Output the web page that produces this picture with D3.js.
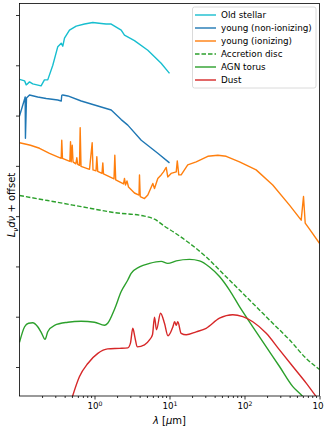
<!DOCTYPE html>
<meta charset="utf-8">
<script src="https://d3js.org/d3.v7.min.js"></script>
<style>
  * {margin: 0; padding: 0;}
  body {background: #fff;}
  text {font-family: "DejaVu Sans", sans-serif; fill: #000;}
  .tick line {stroke: #000; stroke-width: 0.8;}
  .domain {display: none;}
</style>
<body>
<div id="chart"></div>
<script>

// wavelengths in micron, values are log L + offset
var oldLam = [0.100,0.117,0.123,0.136,0.150,0.194,0.215,0.238,0.278,0.324,0.360,0.378,0.398,0.464,0.570,0.736,0.949,1.23,1.43,1.67,2.27,2.51,3.41,5.14,7.74,10.0];
var oldVal = [5.72,5.69,5.61,5.67,5.63,5.59,5.71,5.71,6.00,6.37,6.44,6.38,6.54,6.70,6.78,6.82,6.85,6.83,6.82,6.82,6.70,6.60,6.49,6.30,6.04,5.84];

var yngLam = [0.100,0.117,0.119,0.120,0.124,0.136,0.175,0.227,0.324,0.360,0.366,0.378,0.441,0.665,1.00,1.67,2.27,2.78,4.20,6.98,10.0];
var yngVal = [4.99,5.33,5.37,4.55,5.35,5.41,5.37,5.34,5.31,5.29,5.40,5.41,5.39,5.29,5.21,5.11,4.92,4.81,4.51,4.25,4.06];

var ionLam = [0.100,0.123,0.140,0.185,0.251,0.360,0.366,0.374,0.469,0.479,0.489,0.505,0.517,0.564,0.581,0.598,0.631,0.644,0.661,0.858,0.931,0.955,1.047,1.074,1.104,1.259,1.291,1.318,1.820,1.866,1.919,2.44,2.51,2.59,2.71,2.84,3.41,3.92,3.98,4.07,4.64,5.14,5.99,6.31,6.98,7.74,8.32,9.04,9.48,10.5,12.3,12.7,13.3,14.3,17.5,22.7,32.4,44.1,57.0,85.8,143,238,398,570,612,645,736,1000];
var ionVal = [4.46,4.43,4.41,4.35,4.25,4.15,4.51,4.15,4.09,4.48,4.08,4.41,4.08,4.04,4.16,4.03,4.01,4.76,3.99,3.93,4.46,3.92,3.90,4.18,3.89,3.85,4.06,3.84,3.74,4.21,3.72,3.64,3.75,3.62,3.70,3.58,3.46,3.42,3.82,3.39,3.35,3.42,3.65,3.55,3.75,3.82,3.88,3.97,3.78,3.85,3.88,4.10,3.82,3.82,4.02,4.08,4.19,4.21,4.19,4.08,3.92,3.62,3.22,2.92,3.39,2.86,2.74,2.46];

var accLam = [0.100,0.238,0.665,1.85,4.64,6.31,8.57,11.7,18.5,30.8,51.4,85.8,143,238,398,665,1000];
var accVal = [3.41,3.31,3.19,3.07,3.00,2.94,2.80,2.67,2.46,2.19,1.86,1.53,1.20,0.87,0.54,0.17,-0.05];

var torLam = [0.100,0.117,0.132,0.150,0.175,0.196,0.219,0.238,0.293,0.441,0.665,1.00,1.36,1.50,1.85,2.27,2.78,3.08,3.98,5.41,7.74,9.48,12.3,18.5,25.1,34.1,46.4,63.1,85.8,129,195,293,441,599,736];
var torVal = [0.49,0.80,0.87,0.88,0.80,0.68,0.55,0.70,0.83,0.89,0.91,0.89,0.83,0.87,1.15,1.50,1.73,1.86,1.99,2.06,2.10,2.06,2.11,2.14,2.11,1.99,1.80,1.53,1.20,0.80,0.40,0.01,-0.39,-0.59,-0.78];

var dustLam = [0.505,0.631,0.815,1.107,1.50,2.15,2.78,3.02,3.24,3.47,3.71,4.64,5.41,5.93,6.31,6.71,7.59,8.57,9.55,11.1,11.7,12.3,12.9,14.3,16.7,22.7,30.8,46.4,69.8,94.9,129,195,293,441,665,904];
var dustVal = [-0.60,-0.19,0.07,0.27,0.36,0.37,0.38,0.48,0.77,0.58,0.40,0.44,0.54,0.64,0.99,0.74,1.07,0.87,0.62,0.80,0.90,0.83,0.90,0.67,0.64,0.70,0.77,0.97,1.04,1.00,0.90,0.67,0.34,0.01,-0.32,-0.59];

var xMajor = [1, 10, 100, 1000];
var yTicks = [0, 1, 2, 3, 4, 5, 6, 7];

var series = [
  {name: "Old stellar",          lam: oldLam,  val: oldVal,  color: "#17becf", dash: null,  smooth: false},
  {name: "young (non-ionizing)", lam: yngLam,  val: yngVal,  color: "#1f77b4", dash: null,  smooth: false},
  {name: "young (ionizing)",     lam: ionLam,  val: ionVal,  color: "#ff7f0e", dash: null,  smooth: false},
  {name: "Accretion disc",       lam: accLam,  val: accVal,  color: "#2ca02c", dash: "4.5,2", smooth: true},
  {name: "AGN torus",            lam: torLam,  val: torVal,  color: "#2ca02c", dash: null,  smooth: true},
  {name: "Dust",                 lam: dustLam, val: dustVal, color: "#d62728", dash: null,  smooth: true}
];

var W = 324, H = 429;
var pLeft = 19.5, pRight = 319.5, pTop = 3.5, pBottom = 396;

var svg = d3.select("#chart")
  .append("svg")
    .attr("width", W)
    .attr("height", H);

var x = d3.scaleLog()
  .domain([0.1, 1000])
  .range([pLeft, pRight]);

var y = d3.scaleLinear()
  .domain([0, 7])
  .range([367, 15]);

svg.append("clipPath")
    .attr("id", "clip")
  .append("rect")
    .attr("x", pLeft)
    .attr("y", pTop)
    .attr("width", pRight - pLeft)
    .attr("height", pBottom - pTop);

// curves
var plot = svg.append("g").attr("clip-path", "url(#clip)");

series.forEach(function(s) {
  var pts = s.lam.map(function(l, i) { return [l, s.val[i]]; });
  var line = d3.line()
    .x(function(d) { return x(d[0]); })
    .y(function(d) { return y(d[1]); })
    .curve(s.smooth ? d3.curveMonotoneX : d3.curveLinear);
  plot.append("path")
    .datum(pts)
    .attr("d", line)
    .attr("fill", "none")
    .attr("stroke", s.color)
    .attr("stroke-width", 1.4)
    .attr("stroke-linejoin", "round")
    .attr("stroke-dasharray", s.dash);
});

// x axis: minor ticks then major ticks
var minor = x.ticks().filter(function(t) { return xMajor.indexOf(t) < 0 && t > 0.1; });

svg.append("g")
  .attr("transform", "translate(0," + pBottom + ")")
  .call(d3.axisBottom(x).tickValues(minor).tickSize(2).tickFormat(""));

var xAxis = svg.append("g")
  .attr("transform", "translate(0," + pBottom + ")")
  .call(d3.axisBottom(x).tickValues(xMajor).tickSize(3.5).tickFormat(""));

xAxis.selectAll(".tick")
  .append("text")
    .attr("y", 13)
    .attr("text-anchor", "middle")
    .style("font-size", "8.7px")
    .each(function(d) {
      var t = d3.select(this);
      t.append("tspan").text("10");
      t.append("tspan")
        .attr("dy", "-0.45em")
        .style("font-size", "6.2px")
        .text(String(Math.round(Math.log10(d))));
    });

// y axis, ticks only
svg.append("g")
  .attr("transform", "translate(" + pLeft + ",0)")
  .call(d3.axisLeft(y).tickValues(yTicks).tickSize(3.5).tickFormat(""));

// frame
svg.append("rect")
  .attr("x", pLeft)
  .attr("y", pTop)
  .attr("width", pRight - pLeft)
  .attr("height", pBottom - pTop)
  .attr("fill", "none")
  .attr("stroke", "#000")
  .attr("stroke-width", 0.8);

// axis labels
var xl = svg.append("text")
  .attr("x", (pLeft + pRight) / 2)
  .attr("y", 424)
  .attr("text-anchor", "middle")
  .style("font-size", "10px");
xl.append("tspan").style("font-style", "italic").text("\u03bb");
xl.append("tspan").text(" [");
xl.append("tspan").style("font-style", "italic").text("\u03bc");
xl.append("tspan").text("m]");

var yl = svg.append("text")
  .attr("transform", "translate(15,205) rotate(-90)")
  .attr("text-anchor", "middle")
  .style("font-size", "10px");
yl.append("tspan").style("font-style", "italic").text("L");
yl.append("tspan").style("font-style", "italic").style("font-size", "7px").attr("dy", "2.5").text("\u03bd");
yl.append("tspan").style("font-style", "italic").attr("dy", "-2.5").text("d\u03bd");
yl.append("tspan").text(" + offset");

// legend
var legend = svg.append("g");

legend.append("rect")
  .attr("x", 192.5)
  .attr("y", 7)
  .attr("width", 123.5)
  .attr("height", 81)
  .attr("rx", 2)
  .attr("fill", "#fff")
  .attr("fill-opacity", 0.8)
  .attr("stroke", "#d0d0d0")
  .attr("stroke-width", 0.8);

series.forEach(function(s, i) {
  var ly = 15 + i * 13;
  legend.append("line")
    .attr("x1", 195)
    .attr("x2", 216)
    .attr("y1", ly)
    .attr("y2", ly)
    .attr("stroke", s.color)
    .attr("stroke-width", 1.4)
    .attr("stroke-dasharray", s.dash);
  legend.append("text")
    .attr("x", 221)
    .attr("y", ly)
    .attr("dy", "0.35em")
    .style("font-size", "8.8px")
    .text(s.name);
});

</script>
</body>
